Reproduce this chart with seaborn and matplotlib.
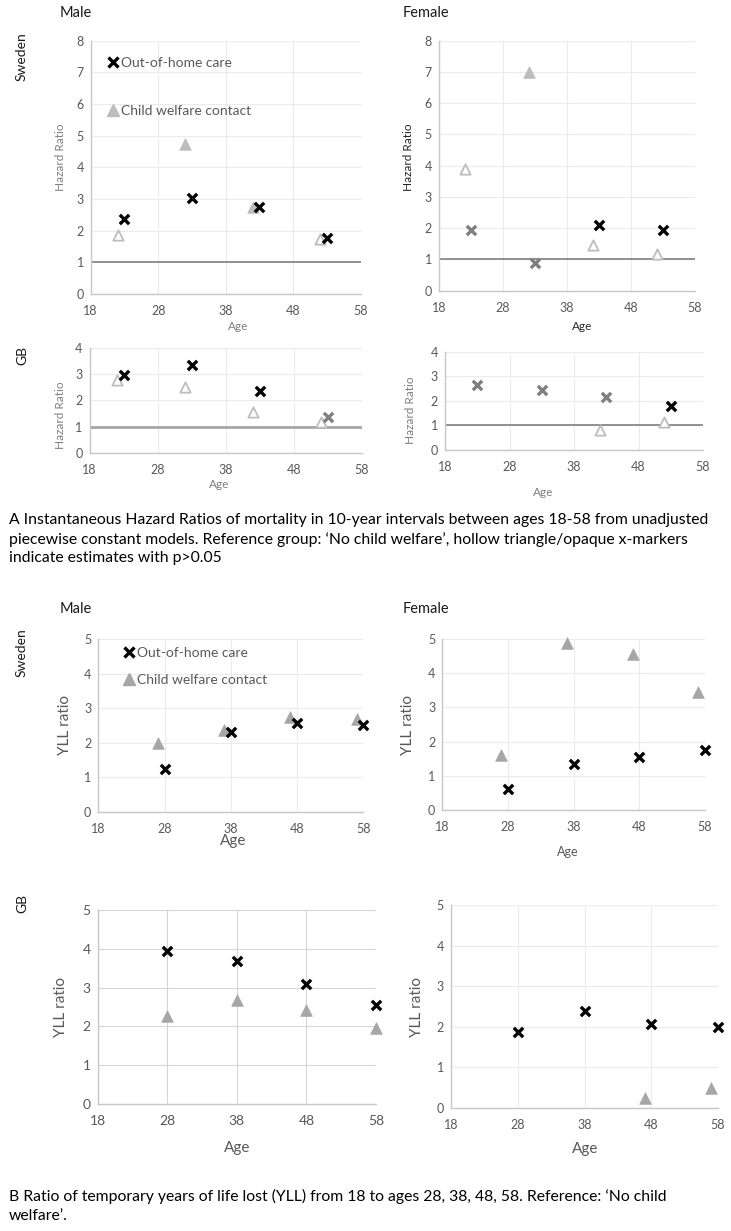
import matplotlib

matplotlib.use("Agg")
import matplotlib.pyplot as plt
import matplotlib.transforms as mtransforms
from matplotlib.lines import Line2D
import numpy as np
import pandas as pd
import seaborn as sns

# ---- data ----
# A: hazard ratios, markers offset around each 10-year interval
hr_ages_care = [23, 33, 43, 53]
hr_ages_contact = [22, 32, 42, 52]

swe_m_care = [2.36, 3.02, 2.76, 1.77]
swe_m_care_sig = [1, 1, 1, 1]
swe_m_contact = [1.86, 4.74, 2.76, 1.73]
swe_m_contact_sig = [0, 1, 1, 0]

swe_f_care = [1.94, 0.90, 2.10, 1.94]
swe_f_care_sig = [0, 0, 1, 1]
swe_f_contact = [3.91, 7.00, 1.46, 1.19]
swe_f_contact_sig = [0, 1, 0, 0]

gb_m_care = [2.95, 3.36, 2.36, 1.38]
gb_m_care_sig = [1, 1, 1, 0]
gb_m_contact = [2.77, 2.52, 1.57, 1.19]
gb_m_contact_sig = [0, 0, 0, 0]

gb_f_care = [2.64, 2.43, 2.17, 1.80]
gb_f_care_sig = [0, 0, 0, 1]
gb_f_contact = [np.nan, np.nan, 0.81, 1.15]
gb_f_contact_sig = [0, 0, 0, 0]

# B: YLL ratios
yll_ages = [28, 38, 48, 58]
yll_ages_shift = [27, 37, 47, 57]

swe_m_yll_care = [1.23, 2.30, 2.58, 2.51]
swe_m_yll_contact = [2.00, 2.37, 2.75, 2.68]
swe_f_yll_care = [0.60, 1.35, 1.56, 1.74]
swe_f_yll_contact = [1.60, 4.87, 4.57, 3.44]
gb_m_yll_care = [3.94, 3.69, 3.08, 2.55]
gb_m_yll_contact = [2.28, 2.68, 2.42, 1.96]
gb_f_yll_care = [1.86, 2.38, 2.08, 1.99]
gb_f_yll_contact = [np.nan, np.nan, 0.25, 0.50]

age_ticks = [18, 28, 38, 48, 58]

CAPTION_A = ("A Instantaneous Hazard Ratios of mortality in 10-year intervals between ages 18-58 from unadjusted\n"
             "piecewise constant models. Reference group: \u2018No child welfare\u2019, hollow triangle/opaque x-markers\n"
             "indicate estimates with p>0.05")
CAPTION_B = ("B Ratio of temporary years of life lost (YLL) from 18 to ages 28, 38, 48, 58. Reference: \u2018No child\n"
             "welfare\u2019.")

# ---- style ----
sns.set_theme(style="white")
plt.rcParams["font.family"] = ["Lato", "DejaVu Sans"]

W, H = 731, 1231
fig = plt.figure(figsize=(W / 100, H / 100), dpi=100)
# pixel coords, origin top-left
PX = mtransforms.Affine2D().scale(1 / W, -1 / H).translate(0, 1) + fig.transFigure

BLACK = "black"
CROSS_NS = "#7f7f7f"
TRI_A = "#bdbdbd"
TRI_B = "#a6a6a6"
TICK_C = "#595959"


def make_axes(l, r, t, b, ylim, yticks, grid_c="#ebebeb", tick_fs=8.5):
    ax = fig.add_axes([l / W, 1 - b / H, (r - l) / W, (b - t) / H])
    ax.set_xlim(18, 58)
    ax.set_ylim(*ylim)
    ax.set_xticks(age_ticks)
    ax.set_yticks(yticks)
    ax.grid(True, color=grid_c, linewidth=0.8)
    ax.set_axisbelow(True)
    for s in ["top", "right"]:
        ax.spines[s].set_visible(False)
    for s in ["left", "bottom"]:
        ax.spines[s].set_color("#c8c8c8")
        ax.spines[s].set_linewidth(1.0)
    ax.tick_params(length=0, labelsize=tick_fs, labelcolor=TICK_C)
    ax.tick_params(axis="x", pad=8)
    ax.tick_params(axis="y", pad=5)
    ax.set_facecolor("white")
    return ax


def crosses(ax, ages, vals, sig=None):
    df = pd.DataFrame({"age": ages, "val": vals,
                       "sig": sig if sig is not None else [1] * len(ages)}).dropna()
    for flag, col in [(1, BLACK), (0, CROSS_NS)]:
        d = df[df["sig"] == flag]
        if len(d):
            sns.scatterplot(data=d, x="age", y="val", marker="x", s=45, color=col,
                            linewidth=2.4, ax=ax, zorder=4, clip_on=False)


def triangles(ax, ages, vals, sig=None, color=TRI_A):
    df = pd.DataFrame({"age": ages, "val": vals,
                       "sig": sig if sig is not None else [1] * len(ages)}).dropna()
    d = df[df["sig"] == 1]
    if len(d):
        sns.scatterplot(data=d, x="age", y="val", marker="^", s=70, color=color,
                        edgecolor=color, linewidth=0.5, ax=ax, zorder=3, clip_on=False)
    d = df[df["sig"] == 0]
    if len(d):
        sns.scatterplot(data=d, x="age", y="val", marker="^", s=55, color=color,
                        facecolor="white", edgecolor=color, linewidth=1.3, ax=ax,
                        zorder=3, clip_on=False)


def ref_line(ax, lw=1.2, c="#808080"):
    ax.axhline(1, color=c, linewidth=lw, zorder=2)


def label(ax, text, xy, axis, fs, color=TICK_C):
    if axis == "x":
        ax.set_xlabel(text, fontsize=fs, color=color)
        ax.xaxis.set_label_coords(*xy, transform=PX)
        ax.xaxis.label.set_va("center")
    else:
        ax.set_ylabel(text, fontsize=fs, color=color)
        ax.yaxis.set_label_coords(*xy, transform=PX)
        ax.yaxis.label.set_va("center")


def legend(ax, anchor, spacing, tri_color):
    handles = [Line2D([], [], marker="x", linestyle="", color=BLACK, markersize=7,
                      markeredgewidth=2.4),
               Line2D([], [], marker="^", linestyle="", color=tri_color, markersize=8,
                      markeredgecolor=tri_color)]
    lg = ax.legend(handles, ["Out-of-home care", "Child welfare contact"], loc="upper left",
                   bbox_to_anchor=anchor, bbox_transform=PX, frameon=False, fontsize=10,
                   labelspacing=spacing, handlelength=0.8, handletextpad=0.2,
                   borderaxespad=0, borderpad=0)
    for t in lg.get_texts():
        t.set_color(TICK_C)


hr_lim, hr_ticks = (0, 8), range(0, 9)
hr4_lim, hr4_ticks = (0, 4), range(0, 5)
yll_lim, yll_ticks = (0, 5), range(0, 6)

# ---- A: Sweden male ----
ax = make_axes(90.7, 360.7, 40.7, 294, hr_lim, hr_ticks, tick_fs=9)
ref_line(ax)
triangles(ax, hr_ages_contact, swe_m_contact, swe_m_contact_sig)
crosses(ax, hr_ages_care, swe_m_care, swe_m_care_sig)
label(ax, "Hazard Ratio", (60, 157), "y", 8.5, "#7f7f7f")
label(ax, "Age", (238, 326), "x", 8.5, "#7f7f7f")
legend(ax, (107, 57), 2.6, TRI_A)

# ---- A: Sweden female ----
ax = make_axes(439, 695, 40.7, 290.7, hr_lim, hr_ticks, tick_fs=9)
ref_line(ax)
triangles(ax, hr_ages_contact, swe_f_contact, swe_f_contact_sig)
crosses(ax, hr_ages_care, swe_f_care, swe_f_care_sig)
label(ax, "Hazard Ratio", (408, 157), "y", 8.5, "#262626")
label(ax, "Age", (582, 326), "x", 8.5, "#262626")

# ---- A: GB male ----
ax = make_axes(89.6, 362, 348, 452.7, hr4_lim, hr4_ticks, tick_fs=9)
ref_line(ax, lw=2.0, c="#a6a6a6")
triangles(ax, hr_ages_contact, gb_m_contact, gb_m_contact_sig)
crosses(ax, hr_ages_care, gb_m_care, gb_m_care_sig)
label(ax, "Hazard Ratio", (60, 415), "y", 8.5, "#7f7f7f")
label(ax, "Age", (219, 485), "x", 8.5, "#7f7f7f")

# ---- A: GB female ----
ax = make_axes(445, 703, 351.7, 450, hr4_lim, hr4_ticks, tick_fs=9)
ref_line(ax)
triangles(ax, hr_ages_contact, gb_f_contact, gb_f_contact_sig)
crosses(ax, hr_ages_care, gb_f_care, gb_f_care_sig)
label(ax, "Hazard Ratio", (410, 410), "y", 8.5, "#7f7f7f")
label(ax, "Age", (543, 492), "x", 8.5, "#7f7f7f")

# ---- B: Sweden male ----
ax = make_axes(98.3, 363.3, 639, 811.7, yll_lim, yll_ticks, tick_fs=9)
triangles(ax, yll_ages_shift, swe_m_yll_contact, color=TRI_B)
crosses(ax, yll_ages, swe_m_yll_care)
label(ax, "YLL ratio", (65, 725), "y", 11)
label(ax, "Age", (233, 841), "x", 11)
legend(ax, (123, 647), 1.05, TRI_B)

# ---- B: Sweden female ----
ax = make_axes(442.3, 705, 639, 810, yll_lim, yll_ticks, tick_fs=9)
triangles(ax, yll_ages_shift, swe_f_yll_contact, color=TRI_B)
crosses(ax, yll_ages, swe_f_yll_care)
label(ax, "YLL ratio", (408, 725), "y", 11)
label(ax, "Age", (568, 852), "x", 9)

# ---- B: GB male ----
ax = make_axes(97.6, 376, 910, 1104, yll_lim, yll_ticks, grid_c="#d6d6d6", tick_fs=10)
triangles(ax, yll_ages, gb_m_yll_contact, color=TRI_B)
crosses(ax, yll_ages, gb_m_yll_care)
label(ax, "YLL ratio", (61, 1007), "y", 11)
label(ax, "Age", (237, 1148), "x", 11)

# ---- B: GB female ----
ax = make_axes(451, 718, 905, 1108, yll_lim, yll_ticks, tick_fs=9)
triangles(ax, yll_ages_shift, gb_f_yll_contact, color=TRI_B)
crosses(ax, yll_ages, gb_f_yll_care)
label(ax, "YLL ratio", (417, 1007), "y", 11)
label(ax, "Age", (585, 1149), "x", 11)

# ---- row / column headers ----
for txt, x, y in [("Male", 60, 13), ("Female", 403, 13), ("Male", 60, 609), ("Female", 403, 609)]:
    fig.text(x, y, txt, transform=PX, fontsize=10.5, color="#1a1a1a", va="center", ha="left")
for txt, x, y in [("Sweden", 22, 57), ("GB", 22, 355), ("Sweden", 22, 653), ("GB", 22, 903)]:
    fig.text(x, y, txt, transform=PX, fontsize=10, color="#1a1a1a", va="center", ha="center",
             rotation=90)

# ---- captions ----
fig.text(9, 513, CAPTION_A, transform=PX, fontsize=11.3, color="black", va="top", ha="left",
         linespacing=1.4)
fig.text(9, 1189, CAPTION_B, transform=PX, fontsize=11.3, color="black", va="top", ha="left",
         linespacing=1.45)

fig.savefig("out.png", dpi=100, facecolor="white")
plt.close(fig)
